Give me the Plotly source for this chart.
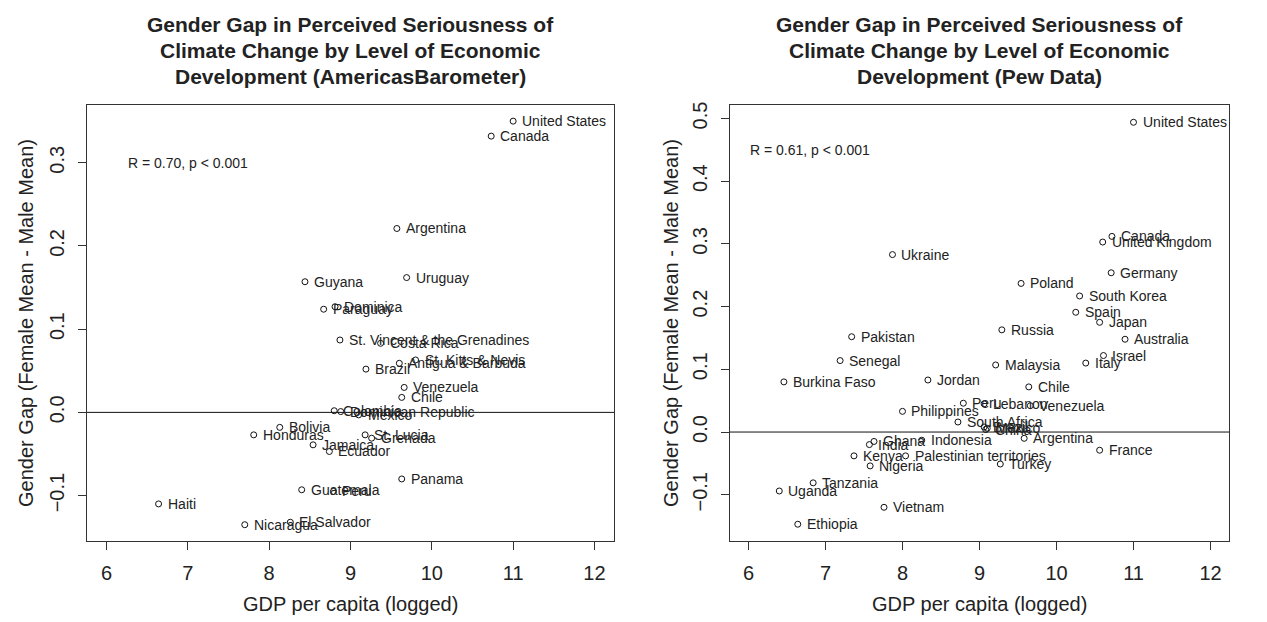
import plotly.graph_objects as go

W, H = 1267, 622
FONT = "Liberation Sans, Arial, sans-serif"
TXT = "#222222"

# ---- AmericasBarometer data ----
ab_countries = ["United States", "Canada", "Argentina", "Guyana", "Uruguay", "Paraguay", "Dominica",
                "St. Vincent & the Grenadines", "Costa Rica", "St. Kitts & Nevis", "Antigua & Barbuda",
                "Brazil", "Venezuela", "Chile", "Colombia", "Dominican Republic", "Mexico", "Bolivia",
                "Honduras", "St. Lucia", "Grenada", "Jamaica", "Ecuador", "Panama", "Guatemala", "Peru",
                "Haiti", "Nicaragua", "El Salvador"]
ab_gdp = [11.00, 10.73, 9.57, 8.44, 9.69, 8.67, 8.81,
          8.87, 9.37, 9.80, 9.60,
          9.19, 9.66, 9.63, 8.80, 8.88, 9.10, 8.13,
          7.81, 9.18, 9.26, 8.54, 8.74, 9.63, 8.40, 8.79,
          6.64, 7.70, 8.26]
ab_gap = [0.350, 0.332, 0.221, 0.157, 0.162, 0.124, 0.127,
          0.087, 0.083, 0.063, 0.059,
          0.052, 0.030, 0.018, 0.002, 0.001, -0.003, -0.018,
          -0.027, -0.027, -0.031, -0.039, -0.047, -0.080, -0.093, -0.095,
          -0.110, -0.135, -0.132]

# ---- Pew data ----
pew_countries = ["United States", "Canada", "United Kingdom", "Ukraine", "Germany", "Poland", "South Korea",
                 "Spain", "Japan", "Russia", "Pakistan", "Australia", "Israel", "Senegal", "Italy",
                 "Malaysia", "Burkina Faso", "Jordan", "Chile", "Peru", "Lebanon", "Venezuela",
                 "Philippines", "South Africa", "Brazil", "China", "Mexico", "Ghana", "India",
                 "Indonesia", "Argentina", "France", "Kenya", "Palestinian territories", "Nigeria",
                 "Turkey", "Tanzania", "Uganda", "Vietnam", "Ethiopia"]
pew_gdp = [11.00, 10.72, 10.60, 7.87, 10.71, 9.54, 10.30,
           10.25, 10.56, 9.29, 7.34, 10.89, 10.61, 7.19, 10.38,
           9.21, 6.46, 8.33, 9.64, 8.79, 9.06, 9.66,
           8.00, 8.72, 9.06, 9.08, 9.10, 7.63, 7.57,
           8.25, 9.58, 10.56, 7.37, 8.04, 7.58,
           9.27, 6.84, 6.40, 7.76, 6.64]
pew_gap = [0.494, 0.312, 0.303, 0.283, 0.254, 0.237, 0.217,
           0.191, 0.175, 0.163, 0.152, 0.148, 0.122, 0.114, 0.110,
           0.107, 0.080, 0.083, 0.072, 0.046, 0.045, 0.042,
           0.033, 0.016, 0.008, 0.004, 0.006, -0.015, -0.020,
           -0.013, -0.010, -0.029, -0.038, -0.038, -0.054,
           -0.051, -0.081, -0.094, -0.120, -0.147]

title_lines = [["Gender Gap in Perceived Seriousness of", "Climate Change by Level of Economic",
                "Development (AmericasBarometer)"],
               ["Gender Gap in Perceived Seriousness of", "Climate Change by Level of Economic",
                "Development (Pew Data)"]]
corr_text = ["R = 0.70, p < 0.001", "R = 0.61, p < 0.001"]
corr_pos = [(7.0, 0.30), (6.8, 0.45)]
x_title = "GDP per capita (logged)"
y_title = "Gender Gap (Female Mean - Male Mean)"
x_ticks = [6, 7, 8, 9, 10, 11, 12]
y_ticks = [[-0.1, 0.0, 0.1, 0.2, 0.3], [-0.1, 0.0, 0.1, 0.2, 0.3, 0.4, 0.5]]
y_ticktext = [["\u22120.1", "0.0", "0.1", "0.2", "0.3"],
              ["\u22120.1", "0.0", "0.1", "0.2", "0.3", "0.4", "0.5"]]

# layout boxes (pixels)
boxes = [(87, 614, 102, 540), (730, 1229, 102, 540)]
yranges = [[-0.154, 0.369], [-0.173, 0.521]]
xrange_ = [5.76, 12.24]
title_line_y = [21, 47, 73]

fig = go.Figure()
datasets = [(ab_countries, ab_gdp, ab_gap), (pew_countries, pew_gdp, pew_gap)]
annotations = []
shapes = []
for i, (names, xs, ys) in enumerate(datasets):
    xa = "x" if i == 0 else "x2"
    ya = "y" if i == 0 else "y2"
    fig.add_trace(go.Scatter(x=xs, y=ys, mode="markers", xaxis=xa, yaxis=ya,
                             marker=dict(symbol="circle-open", size=6, color="#111111",
                                         line=dict(width=1, color="#111111")),
                             hovertext=names, showlegend=False))
    for n, xv, yv in zip(names, xs, ys):
        annotations.append(dict(x=xv, y=yv, xref=xa, yref=ya, text=n, showarrow=False,
                                xanchor="left", yanchor="middle", xshift=8, borderpad=0,
                                font=dict(family=FONT, size=14, color=TXT)))
    cx, cy = corr_pos[i]
    annotations.append(dict(x=cx, y=cy, xref=xa, yref=ya, text=corr_text[i], showarrow=False,
                            xanchor="center", yanchor="middle",
                            font=dict(family=FONT, size=14, color=TXT)))
    l, r, t, b = boxes[i]
    xc = (l + r) / 2 / W
    for line, ly in zip(title_lines[i], title_line_y):
        annotations.append(dict(x=xc, y=1 - ly / H, xref="paper", yref="paper", text="<b>" + line + "</b>",
                                showarrow=False, xanchor="center", yanchor="middle",
                                font=dict(family=FONT, size=21, color=TXT)))
    annotations.append(dict(x=xc, y=1 - 604 / H, xref="paper", yref="paper", text=x_title,
                            showarrow=False, xanchor="center", yanchor="middle",
                            font=dict(family=FONT, size=20, color=TXT)))
    ytx = 26 if i == 0 else 671
    annotations.append(dict(x=ytx / W, y=1 - ((t + b) / 2) / H, xref="paper", yref="paper", text=y_title,
                            showarrow=False, xanchor="center", yanchor="middle", textangle=-90,
                            font=dict(family=FONT, size=20, color=TXT)))
    shapes.append(dict(type="line", xref=xa + " domain", yref=ya, x0=0, x1=1, y0=0, y1=0,
                       line=dict(color="#111111", width=1)))

def xaxis_cfg(i):
    l, r, t, b = boxes[i]
    return dict(domain=[l / W, r / W], range=xrange_, tickvals=x_ticks, ticks="outside", ticklen=8,
                tickcolor="#333333", showline=True, mirror=True, linecolor="#333333", linewidth=1,
                showgrid=False, zeroline=False, anchor="y" if i == 0 else "y2",
                tickfont=dict(family=FONT, size=20, color=TXT), ticklabelstandoff=6)

def yaxis_cfg(i):
    l, r, t, b = boxes[i]
    return dict(domain=[1 - b / H, 1 - t / H], range=yranges[i], tickvals=y_ticks[i], ticktext=y_ticktext[i],
                ticks="outside", ticklen=8, tickcolor="#333333", showline=True, mirror=True,
                linecolor="#333333", linewidth=1, showgrid=False, zeroline=False, tickangle=-90,
                anchor="x" if i == 0 else "x2",
                tickfont=dict(family=FONT, size=20, color=TXT), ticklabelstandoff=6)

fig.update_layout(width=W, height=H, margin=dict(l=0, r=0, t=0, b=0),
                  paper_bgcolor="white", plot_bgcolor="white",
                  xaxis=xaxis_cfg(0), yaxis=yaxis_cfg(0), xaxis2=xaxis_cfg(1), yaxis2=yaxis_cfg(1),
                  annotations=annotations, shapes=shapes, showlegend=False)

fig.write_html("out.html", config={"displayModeBar": False},
               post_script="document.body.style.margin='0';document.body.style.overflow='hidden';")
